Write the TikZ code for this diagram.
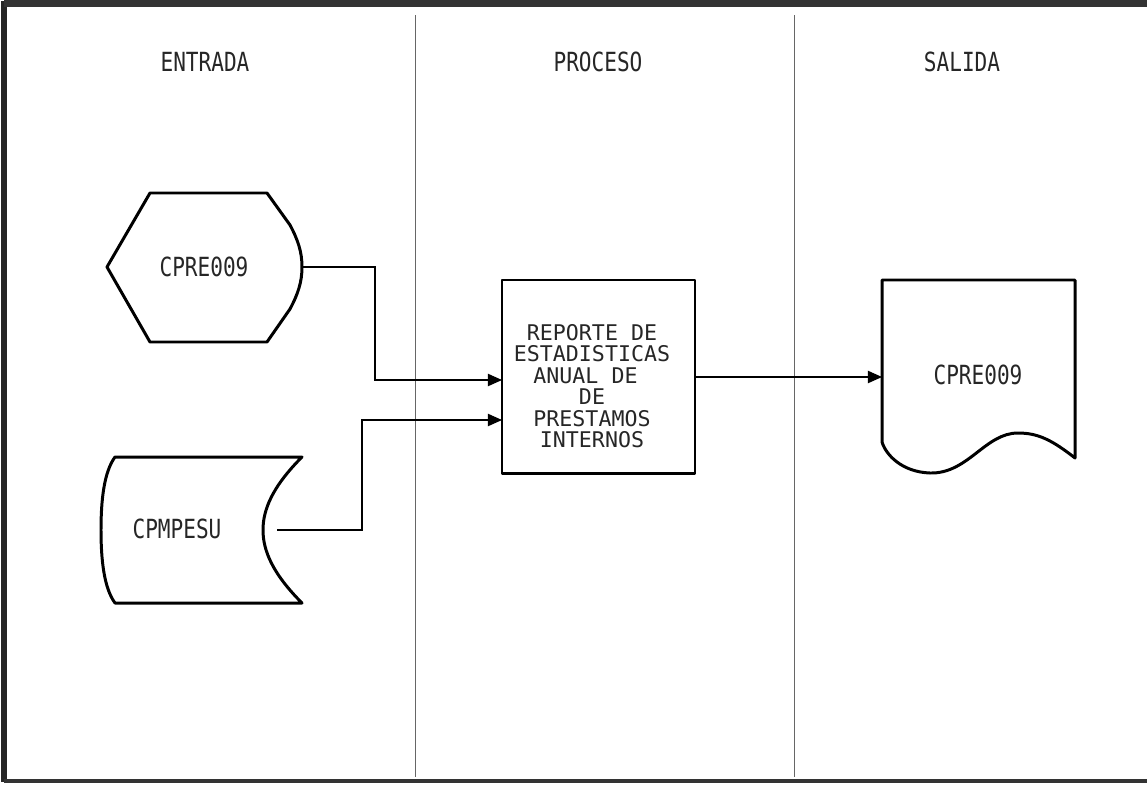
\documentclass[tikz,border=0pt]{standalone}
\usepackage{fontspec}
\usetikzlibrary{arrows.meta}
\newfontfamily\matriz{DejaVu Sans Mono}[FakeStretch=0.8]
\newfontfamily\matrizbox{DejaVu Sans Mono}
\tikzset{
  simbolo/.style={line width=1.7pt, line join=round},
  flecha/.style={-{Triangle[length=8pt,width=7pt]}, line width=0.6pt},
  texto/.style={font=\matriz\fontsize{15}{15}\selectfont, inner sep=0pt, text=black!85},
  textobox/.style={font=\matrizbox\fontsize{12.3}{12.2}\selectfont, inner sep=0pt, text=black!85},
  carril/.style={line width=0.5pt, black!60},
}
\begin{document}
\begin{tikzpicture}[x=0.02cm, y=-0.02cm]
        \useasboundingbox (0,0) rectangle (1147,785);
        % marco
        \draw[line width=3.5pt, black!85] (4,782) -- (4,4) -- (1147,4);
        \draw[line width=5pt, black!80] (4,3) -- (1147,3);
        \draw[line width=2pt, black!80] (4,781) -- (1147,781);
        \draw[carril] (415,15) -- (415,777);
        \draw[carril] (794,15) -- (794,777);
        % cabeceras
        \node[texto] (ent) at (205,62) {ENTRADA};
        \node[texto] (pro) at (598,62) {PROCESO};
        \node[texto] (sal) at (962,62) {SALIDA};
        % entradas
        \draw[simbolo] (150,193) -- (267,193) -- (290,225) .. controls (298,240) and (302,252) .. (302,267)
            .. controls (302,282) and (298,294) .. (290,309) -- (267,342) -- (150,342) -- (107,267) -- cycle;
        \node[texto] (pant) at (204,267) {CPRE009};
        \coordinate (pantR) at (302,267);
        \draw[simbolo] (115,457) -- (302,457) .. controls (272,487) and (263,510) .. (263,530)
            .. controls (263,550) and (272,573) .. (302,603) -- (115,603)
            .. controls (104,588) and (101,560) .. (101,530) .. controls (101,500) and (104,472) .. (115,457) -- cycle;
        \node[texto] (arch) at (177,529) {CPMPESU};
        \coordinate (archR) at (277,530);
        % proceso
        \draw[simbolo] (502,280) rectangle (695,473);
        \node[textobox, align=center] (rep) at (592,386) {REPORTE DE\\ESTADISTICAS\\ANUAL DE~~\\DE\\PRESTAMOS\\INTERNOS};
        \coordinate (in1) at (502,380);
        \coordinate (in2) at (502,420);
        \coordinate (out) at (695,377);
        % salida
        \draw[simbolo] (882,280) -- (1075,280) -- (1075,458) .. controls (1052,440) and (1038,433) .. (1018,433)
            .. controls (985,433) and (968,474) .. (930,473) .. controls (902,472) and (886,455) .. (882,442) -- cycle;
        \node[texto] (doc) at (978,375) {CPRE009};
        \coordinate (docL) at (882,377);
        % conectores
        \draw[flecha] (pantR) -- ++(73,0) |- (in1);
        \draw[flecha] (archR) -- ++(85,0) |- (in2);
        \draw[flecha] (out) -- (docL);
\end{tikzpicture}
\end{document}
